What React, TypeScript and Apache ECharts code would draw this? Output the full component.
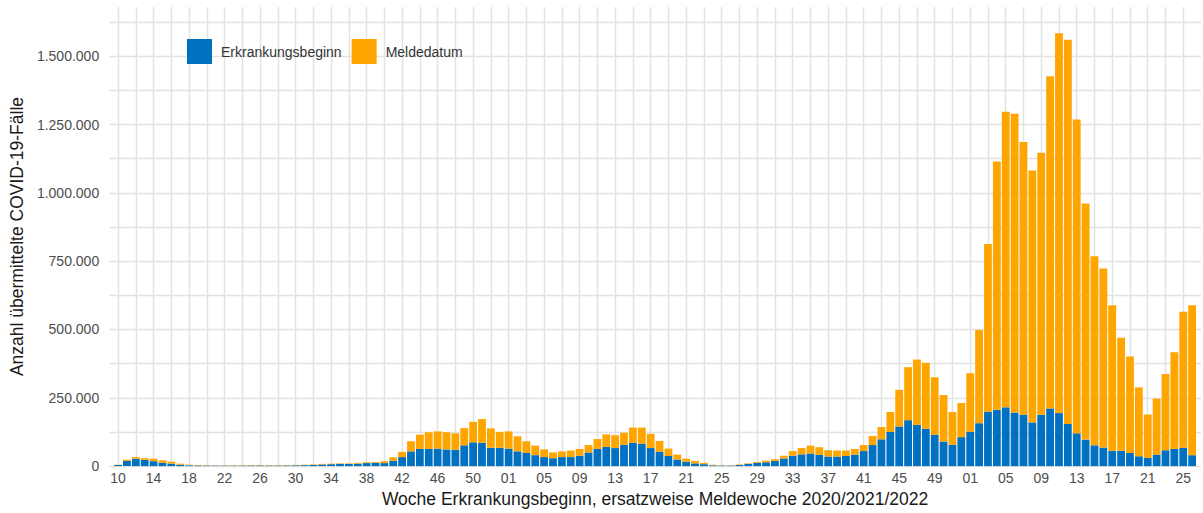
import React, { useEffect, useRef } from "react";
import * as echarts from "echarts";

// Weeks per year shown
const years: { year: number; from: number; to: number }[] = [
  { year: 2020, from: 10, to: 53 },
  { year: 2021, from: 1, to: 52 },
  { year: 2022, from: 1, to: 26 },
];

// Erkrankungsbeginn (blue) 2020 W10 .. 2022 W26
const erkrankung2020 = [
  4000, 19000, 27000, 23000, 18000, 12000, 9000, 5000, 3000, 2500, 2000, 2000,
  1800, 1800, 2000, 2500, 2500, 2200, 2200, 2500, 3000, 3500, 4000, 6000, 7000,
  8000, 8000, 9000, 11000, 12000, 11000, 20000, 33000, 54000, 63000, 63000,
  64000, 61000, 60000, 76000, 87000, 85000, 67000, 67000,
];
const erkrankung2021 = [
  64000, 54000, 48000, 40000, 33000, 29000, 33000, 33000, 38000, 50000, 63000,
  70000, 66000, 78000, 85000, 82000, 66000, 53000, 37000, 24000, 16000, 10000,
  7000, 3000, 2000, 2000, 4000, 8000, 12000, 14000, 19000, 28000, 38000, 43000,
  46000, 41000, 35000, 35000, 37000, 42000, 55000, 77000, 98000, 125000,
  145000, 168000, 151000, 137000, 115000, 90000, 78000, 106000,
];
const erkrankung2022 = [
  126000, 157000, 199000, 206000, 215000, 196000, 188000, 160000, 188000,
  211000, 194000, 154000, 120000, 97000, 76000, 68000, 56000, 56000, 48000,
  36000, 30000, 42000, 58000, 63000, 67000, 40000,
];

// Meldedatum (orange, stacked on top)
const melde2020 = [
  1000, 4000, 6000, 6000, 9000, 9000, 7000, 4000, 2000, 1500, 1500, 1000, 1200,
  1200, 1500, 1500, 1500, 1300, 1300, 1500, 1500, 1500, 2000, 2000, 2000, 2000,
  2000, 3000, 3000, 3000, 7000, 12000, 19000, 37000, 52000, 61000, 63000,
  63000, 60000, 63000, 75000, 87000, 71000, 58000,
];
const melde2021 = [
  63000, 55000, 43000, 35000, 28000, 21000, 21000, 24000, 25000, 27000, 36000,
  46000, 47000, 44000, 56000, 59000, 52000, 39000, 27000, 18000, 11000, 9000,
  5000, 2000, 1000, 1000, 2000, 2000, 3000, 6000, 6000, 10000, 17000, 23000,
  29000, 28000, 23000, 22000, 20000, 21000, 22000, 33000, 45000, 73000,
  134000, 194000, 239000, 241000, 210000, 170000, 120000, 125000,
];
const melde2022 = [
  214000, 341000, 614000, 909000, 1082000, 1093000, 998000, 922000, 959000,
  1216000, 1390000, 1406000, 1148000, 864000, 692000, 655000, 533000, 414000,
  353000, 252000, 159000, 205000, 279000, 354000, 498000, 549000,
];

const seriesNames = ["Erkrankungsbeginn", "Meldedatum"];
const colors = ["#0070c0", "#ffa500"];
const yMax = 1680000;
const yInterval = 125000;
const yLabelStep = 250000;

function fmtDE(v: number): string {
  return String(Math.round(v)).replace(/\B(?=(\d{3})+(?!\d))/g, ".");
}

export default function App() {
  const ref = useRef<HTMLDivElement>(null);
  useEffect(() => {
    if (!ref.current) return;
    const chart = echarts.init(ref.current, undefined, { renderer: "svg" });
    const weeks: string[] = [];
    years.forEach((y) => {
      for (let w = y.from; w <= y.to; w++) weeks.push(String(w).padStart(2, "0"));
    });
    // pad categories so that the plot extends one week beyond first/last bar
    const cats = ["", ...weeks, ""];
    const blue = [null, ...erkrankung2020, ...erkrankung2021, ...erkrankung2022, null];
    const orange = [null, ...melde2020, ...melde2021, ...melde2022, null];
    const n = weeks.length;
    const font = "'Liberation Sans', Arial, sans-serif";

    chart.setOption({
      animation: false,
      textStyle: { fontFamily: font },
      grid: { left: 104, right: 2, top: 7, bottom: 46.5, containLabel: false },
      legend: {
        left: 182,
        top: 34,
        itemWidth: 25,
        itemHeight: 25,
        itemGap: 10,
        icon: "rect",
        data: seriesNames,
        textStyle: { fontSize: 14, color: "#333", fontFamily: font, padding: [0, 0, 0, 4] },
      },
      xAxis: {
        type: "category",
        data: cats,
        boundaryGap: false,
        axisLine: { show: false },
        axisTick: { show: false },
        axisLabel: {
          interval: (i: number) => i >= 1 && i <= n && (i - 1) % 4 === 0,
          color: "#4d4d4d",
          fontSize: 14,
          margin: 5,
          fontFamily: font,
        },
        splitLine: {
          show: true,
          interval: (i: number) => i >= 1 && i <= n && (i - 1) % 2 === 0,
          lineStyle: { color: "#e2e2e2", width: 1.4 },
        },
        name: "Woche Erkrankungsbeginn, ersatzweise Meldewoche 2020/2021/2022",
        nameLocation: "middle",
        nameGap: 21,
        nameTextStyle: { fontSize: 17.5, color: "#1a1a1a", fontFamily: font },
      },
      yAxis: {
        type: "value",
        min: 0,
        max: yMax,
        interval: yInterval,
        axisLine: { show: false },
        axisTick: { show: false },
        axisLabel: {
          formatter: (v: number) => (v % yLabelStep === 0 ? fmtDE(v) : ""),
          color: "#4d4d4d",
          fontSize: 14,
          margin: 10,
          fontFamily: font,
        },
        splitLine: {
          show: true,
          showMaxLine: false,
          lineStyle: { color: "#e2e2e2", width: 1.4 },
        },
        name: "Anzahl übermittelte COVID-19-Fälle",
        nameLocation: "middle",
        nameGap: 78,
        nameTextStyle: { fontSize: 17.5, color: "#1a1a1a", fontFamily: font },
      },
      series: [
        {
          name: seriesNames[0],
          type: "bar",
          stack: "total",
          data: blue,
          barCategoryGap: "12%",
          itemStyle: { color: colors[0] },
        },
        {
          name: seriesNames[1],
          type: "bar",
          stack: "total",
          data: orange,
          barCategoryGap: "12%",
          itemStyle: { color: colors[1] },
        },
      ],
    });
    return () => chart.dispose();
  }, []);
  return (
    <div
      ref={ref}
      style={{ position: "fixed", left: 0, top: 0, width: 1203, height: 513, background: "#fff" }}
    />
  );
}
